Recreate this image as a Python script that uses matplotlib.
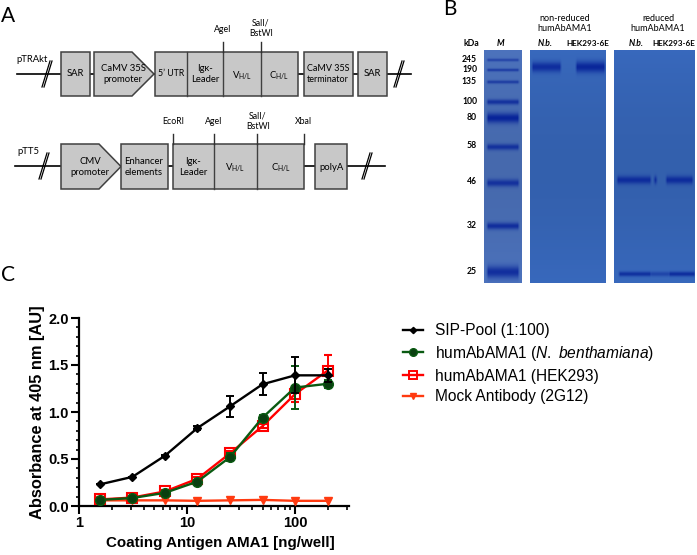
import numpy as np
import matplotlib
matplotlib.use("Agg")
import matplotlib.pyplot as plt
from matplotlib.lines import Line2D
from matplotlib.patches import Rectangle, Polygon

plt.rcParams['mathtext.fontset'] = 'custom'
plt.rcParams['mathtext.rm'] = 'Liberation Sans'
plt.rcParams['mathtext.it'] = 'Liberation Sans:italic'

#--------------------
# ELISA data

coating = [1.5625, 3.125, 6.25, 12.5, 25, 50, 100, 200]
sip_pool = [0.23, 0.31, 0.535, 0.83, 1.06, 1.295, 1.39, 1.39]
sip_err = [0.0, 0.0, 0.01, 0.02, 0.115, 0.115, 0.19, 0.07]
nb = [0.065, 0.085, 0.14, 0.26, 0.52, 0.94, 1.26, 1.30]
nb_err = [0.01, 0.01, 0.01, 0.02, 0.04, 0.03, 0.23, 0.04]
hek = [0.07, 0.09, 0.155, 0.29, 0.56, 0.85, 1.19, 1.44]
hek_err = [0.01, 0.01, 0.01, 0.02, 0.03, 0.02, 0.08, 0.17]
mock = [0.06, 0.06, 0.06, 0.055, 0.06, 0.065, 0.055, 0.055]

#--------------------
# gel data

kda_labels = ['245', '190', '135', '100', '80', '58', '46', '32', '25']
kda_y = [60, 70, 82, 102, 118, 147, 183, 226, 272]
kda_width = [1.5, 1.5, 1.7, 2.6, 5.0, 3.0, 3.6, 3.4, 6.0]
kda_strength = [0.55, 0.65, 0.65, 0.8, 1.0, 0.8, 0.8, 0.85, 0.85]

W, H = 697, 555
GRAY = '#c8c8c8'
EDGE = '#404040'
FONT = 'Lato'


def px_text(ax, x, y, s, size=6.8, **kw):
    kw.setdefault('family', FONT)
    ax.text(x, y, s, fontsize=size, ha=kw.pop('ha', 'center'), va=kw.pop('va', 'center'), **kw)


def box(ax, x0, x1, y0, y1):
    ax.add_patch(Rectangle((x0, y0), x1 - x0, y1 - y0, fc=GRAY, ec=EDGE, lw=1.1, zorder=3))


def arrow_box(ax, x0, shoulder, tip, y0, y1):
    pts = [(x0, y0), (shoulder, y0), (tip, (y0 + y1) / 2), (shoulder, y1), (x0, y1)]
    ax.add_patch(Polygon(pts, closed=True, fc=GRAY, ec=EDGE, lw=1.1, zorder=3))


def line_break(ax, x, y):
    for dx in (-1, 1):
        ax.plot([x - 4 + dx, x + 4 + dx], [y + 13, y - 13], color='k', lw=0.9, zorder=4)


def site(ax, x, y0, y1):
    ax.plot([x, x], [y0, y1], color='#303030', lw=1.0, zorder=4)


def draw_map(ax):
    px_text(ax, 8, 16, 'A', size=15)

    # pTRAkt row
    ax.plot([17, 411], [74, 74], color='k', lw=1.2, zorder=1)
    line_break(ax, 47, 74)
    line_break(ax, 399, 74)
    px_text(ax, 32, 59, 'pTRAkt')
    box(ax, 61, 90, 52, 96)
    px_text(ax, 75, 74, 'SAR')
    arrow_box(ax, 94, 132, 154, 52, 96)
    px_text(ax, 123, 74, 'CaMV 35S\npromoter', linespacing=1.25)
    box(ax, 155, 298, 52, 96)
    for x in (187, 223, 261):
        ax.plot([x, x], [52, 96], color=EDGE, lw=1.0, zorder=4)
    px_text(ax, 171, 74, "5’ UTR", size=6.3)
    px_text(ax, 205, 74, 'Igκ-\nLeader', linespacing=1.25)
    px_text(ax, 242, 75, r'V$_{\mathregular{H/L}}$')
    px_text(ax, 279, 75, r'C$_{\mathregular{H/L}}$')
    site(ax, 223, 42, 52)
    site(ax, 261, 42, 52)
    px_text(ax, 223, 30, 'AgeI', size=6.3)
    px_text(ax, 261, 28, 'SalI/\nBstWI', size=6.3, linespacing=1.2)
    box(ax, 304, 353, 52, 96)
    px_text(ax, 328, 74, 'CaMV 35S\nterminator', size=6.5, linespacing=1.25)
    box(ax, 358, 387, 52, 96)
    px_text(ax, 372, 74, 'SAR')

    # pTT5 row
    ax.plot([15, 385], [166, 166], color='k', lw=1.2, zorder=1)
    line_break(ax, 44, 166)
    line_break(ax, 367, 166)
    px_text(ax, 28, 152, 'pTT5')
    arrow_box(ax, 61, 99, 121, 144, 189)
    px_text(ax, 90, 167, 'CMV\npromoter', linespacing=1.25)
    box(ax, 121, 168, 144, 189)
    px_text(ax, 144, 167, 'Enhancer\nelements', linespacing=1.25)
    box(ax, 173, 304, 144, 189)
    for x in (214, 257):
        ax.plot([x, x], [144, 189], color=EDGE, lw=1.0, zorder=4)
    px_text(ax, 193, 167, 'Igκ-\nLeader', linespacing=1.25)
    px_text(ax, 235, 167, r'V$_{\mathregular{H/L}}$')
    px_text(ax, 281, 167, r'C$_{\mathregular{H/L}}$')
    for x in (173, 214, 257, 304):
        site(ax, x, 134, 144)
    px_text(ax, 173, 122, 'EcoRI', size=6.3)
    px_text(ax, 214, 122, 'AgeI', size=6.3)
    px_text(ax, 258, 121, 'SalI/\nBstWI', size=6.3, linespacing=1.2)
    px_text(ax, 304, 122, 'XbaI', size=6.3)
    box(ax, 315, 347, 144, 189)
    px_text(ax, 331, 167, 'polyA')


def gel_image(ax, x0, x1, bands, back):
    # bands: (y centre, half height, x start, x end, strength)
    xs = np.arange(x0, x1) + 0.5
    ys = np.arange(50, 283) + 0.5
    xx, yy = np.meshgrid(xs, ys)
    ink = np.zeros_like(xx)
    for yc, hh, xa, xb, s in bands:
        across = np.clip((xx - xa) / 2.5, 0, 1) * np.clip((xb - xx) / 2.5, 0, 1)
        ink += s * across * np.exp(-((yy - yc) / hh) ** 2)
    ink = np.clip(ink, 0, 1)[..., None]
    dark = np.array([0.03, 0.14, 0.60])
    # a little darker towards the middle of the gel
    shade = (1 - 0.08 * np.sin(np.pi * (yy - 50) / 233))[..., None]
    img = np.array(back) * shade * (1 - ink) + dark * ink
    ax.imshow(img, extent=(x0, x1, 283, 50), aspect='auto', interpolation='bilinear', zorder=2)


def draw_gel(ax):
    px_text(ax, 450, 9, 'B', size=15)
    marker = [(y, w, 486, 520, s) for y, w, s in zip(kda_y, kda_width, kda_strength)]
    gel_image(ax, 484, 522, marker, (0.30, 0.45, 0.74))
    gel_image(ax, 530, 606, [(67, 5.0, 531, 562, 0.85), (67, 5.5, 575, 606, 0.95)], (0.22, 0.41, 0.74))
    gel_image(ax, 614, 695, [(180, 4.0, 616, 652, 0.85), (180, 4.0, 653, 658, 0.8),
                             (180, 4.0, 665, 694, 0.85), (274, 2.4, 618, 652, 0.8),
                             (274, 2.4, 650, 670, 0.5), (274, 2.4, 668, 696, 0.85)], (0.22, 0.41, 0.74))
    for lab, y in zip(kda_labels, kda_y):
        px_text(ax, 477, y - 1, lab, size=6.2, ha='right', fontweight='bold')
    px_text(ax, 471, 44, 'kDa', size=6.2, fontweight='bold')
    px_text(ax, 500, 44, 'M', size=6.2, style='italic', fontweight='bold')
    px_text(ax, 565, 23.5, 'non-reduced\nhumAbAMA1', size=6.5, linespacing=1.2)
    px_text(ax, 658, 23.5, 'reduced\nhumAbAMA1', size=6.5, linespacing=1.2)
    px_text(ax, 545, 44, 'N.b.', size=6.2, style='italic', fontweight='bold')
    px_text(ax, 588, 44, 'HEK293-6E', size=5.9, fontweight='bold')
    px_text(ax, 636, 44, 'N.b.', size=6.2, style='italic', fontweight='bold')
    px_text(ax, 674, 44, 'HEK293-6E', size=5.9, fontweight='bold')


def draw_elisa(fig):
    ax = fig.add_axes([79 / W, (H - 506) / H, 270 / W, 188 / H], zorder=3)
    ax.patch.set_alpha(0)
    ax.set_xscale('log')
    ax.set_xlim(1, 316)
    ax.set_ylim(0, 2.0)

    common = dict(lw=1.7, capsize=3.2, capthick=1.4, elinewidth=1.4, clip_on=False)
    ax.errorbar(coating, mock, color='#ff3a10', marker='v', ms=6, zorder=3, **common)
    ax.errorbar(coating, hek, yerr=hek_err, color='#ff0000', marker='s', ms=7.5, mfc='none', mew=1.5,
                zorder=4, **common)
    ax.errorbar(coating, nb, yerr=nb_err, color='#0a5a12', marker='o', ms=7, mfc='#0a3f10',
                zorder=5, **common)
    ax.errorbar(coating, sip_pool, yerr=sip_err, color='k', marker='D', ms=3.8, zorder=6, **common)

    for side in ('top', 'right'):
        ax.spines[side].set_visible(False)
    for side in ('left', 'bottom'):
        ax.spines[side].set_linewidth(1.6)
    ax.set_yticks([0, 0.5, 1.0, 1.5, 2.0])
    ax.set_yticks(np.arange(0, 2.01, 0.1), minor=True)
    ax.set_xticks([1, 10, 100])
    ax.set_xticklabels(['1', '10', '100'])
    ax.tick_params(which='major', width=1.5, length=5.5, labelsize=10.5, pad=2)
    ax.tick_params(which='minor', width=1.2, length=3)
    ax.tick_params(axis='y', which='minor', length=2.5)
    for t in ax.get_xticklabels() + ax.get_yticklabels():
        t.set_family('Liberation Sans')
        t.set_fontweight('bold')
    ax.set_xlabel('Coating Antigen AMA1 [ng/well]', family='Liberation Sans', fontweight='bold',
                  fontsize=10.9)
    ax.set_ylabel('Absorbance at 405 nm [AU]', family='Liberation Sans', fontweight='bold',
                  fontsize=11.8)
    ax.xaxis.set_label_coords(0.522, -0.158)
    ax.yaxis.set_label_coords(-0.125, 0.5)

    handles = [
        Line2D([], [], color='k', marker='D', ms=3.2, lw=1.7),
        Line2D([], [], color='#0a5a12', marker='o', ms=5.5, mfc='#0a3f10', lw=1.7),
        Line2D([], [], color='#ff0000', marker='s', ms=5.5, mfc='none', mew=1.4, lw=1.7),
        Line2D([], [], color='#ff3a10', marker='v', ms=5, lw=1.7),
    ]
    labels = ['SIP-Pool (1:100)', r'humAbAMA1 ($\mathit{N.}$ $\mathit{benthamiana}$)',
              'humAbAMA1 (HEK293)', 'Mock Antibody (2G12)']
    fig.legend(handles, labels, loc='upper left', bbox_to_anchor=(403 / W, (H - 323) / H), frameon=False,
               prop={'family': 'Liberation Sans', 'size': 11.2}, labelspacing=0.37,
               handlelength=1.3, handletextpad=0.75, borderpad=0, borderaxespad=0)


def main():
    fig = plt.figure(figsize=(W / 100, H / 100), dpi=100, facecolor='w')
    canvas = fig.add_axes([0, 0, 1, 1], zorder=1)

    draw_map(canvas)
    draw_gel(canvas)
    canvas.set_xlim(0, W)
    canvas.set_ylim(H, 0)
    canvas.axis('off')
    px_text(canvas, 8, 275, 'C', size=15)
    draw_elisa(fig)

    fig.savefig('out.png', dpi=100)


if __name__ == "__main__":
    main()
